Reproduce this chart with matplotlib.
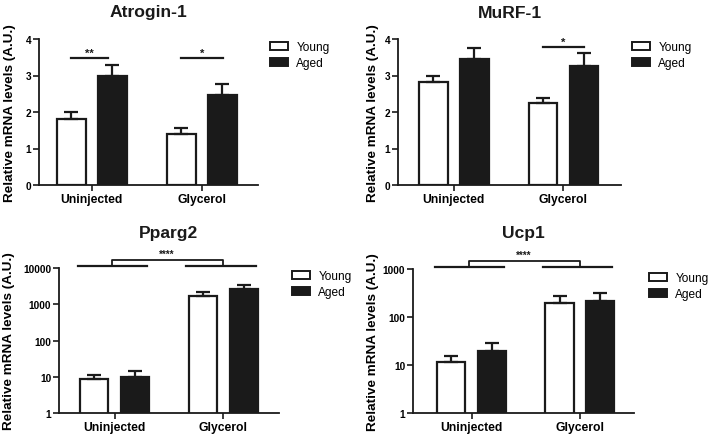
import matplotlib
matplotlib.use("Agg")
import matplotlib.pyplot as plt
from matplotlib.patches import Patch
import numpy as np

plt.rcParams['font.family'] = ['Liberation Sans', 'DejaVu Sans']

# ---------------- data ----------------
categories = ['Uninjected', 'Glycerol']
series_names = ['Young', 'Aged']

atrogin_young = [1.80, 1.41]
atrogin_young_err = [0.19, 0.16]
atrogin_aged = [2.98, 2.46]
atrogin_aged_err = [0.32, 0.32]

murf_young = [2.83, 2.24]
murf_young_err = [0.15, 0.14]
murf_aged = [3.45, 3.26]
murf_aged_err = [0.29, 0.35]

pparg_young = [8.7, 1700]
pparg_young_err = [2.7, 440]
pparg_aged = [10.0, 2590]
pparg_aged_err = [4.1, 730]

ucp_young = [11.4, 196]
ucp_young_err = [4.2, 74]
ucp_aged = [19.6, 212]
ucp_aged_err = [8.7, 109]

titles = ['Atrogin-1', 'MuRF-1', 'Pparg2', 'Ucp1']
ylabel = 'Relative mRNA levels (A.U.)'

# ---------------- layout ----------------
W, H = 709, 435
fig = plt.figure(figsize=(W / 100, H / 100), dpi=100)

def fx(px):
    return px / W

def fy(py):
    return 1 - py / H

BLACK = '#1a1a1a'

panels = [
    dict(box=(39, 40, 258, 186), xlim=(-0.48, 1.51), log=False, title_y=13,
         young=atrogin_young, yerr=atrogin_young_err, aged=atrogin_aged, aerr=atrogin_aged_err,
         ylabel_x=10, legend=(270, 42)),
    dict(box=(398, 40, 621, 186), xlim=(-0.51, 1.525), log=False, title_y=13,
         young=murf_young, yerr=murf_young_err, aged=murf_aged, aerr=murf_aged_err,
         ylabel_x=373, legend=(632, 42)),
    dict(box=(59, 269, 279, 414), xlim=(-0.51, 1.51), log=True, ylim=(1, 10000), title_y=234,
         young=pparg_young, yerr=pparg_young_err, aged=pparg_aged, aerr=pparg_aged_err,
         ylabel_x=9, legend=(292, 271)),
    dict(box=(413, 270, 634, 414), xlim=(-0.54, 1.50), log=True, ylim=(1, 1000), title_y=234,
         young=ucp_young, yerr=ucp_young_err, aged=ucp_aged, aerr=ucp_aged_err,
         ylabel_x=373, legend=(649, 273)),
]

x = np.arange(len(categories))
off = 0.187
bw = 0.26

axes = []
for i, p in enumerate(panels):
    l, t, r, b = p['box']
    ax = fig.add_axes([fx(l), fy(b), fx(r) - fx(l), (b - t) / H])
    axes.append(ax)
    ax.bar(x - off, p['young'], bw, color='white', edgecolor=BLACK, linewidth=1.6, zorder=2)
    ax.bar(x + off, p['aged'], bw, color=BLACK, edgecolor=BLACK, linewidth=1.6, zorder=2)
    ax.errorbar(x - off, p['young'], yerr=[np.zeros(2), p['yerr']], fmt='none',
                ecolor=BLACK, elinewidth=1.6, capsize=5, capthick=1.6, zorder=3)
    ax.errorbar(x + off, p['aged'], yerr=[np.zeros(2), p['aerr']], fmt='none',
                ecolor=BLACK, elinewidth=1.6, capsize=5, capthick=1.6, zorder=3)
    ax.set_xlim(*p['xlim'])
    if p['log']:
        ax.set_yscale('log')
        ax.set_ylim(*p['ylim'])
        ticks = [10 ** k for k in range(int(np.log10(p['ylim'][1])) + 1)]
        ax.set_yticks(ticks)
        ax.set_yticklabels([str(int(v)) for v in ticks])
        ax.yaxis.set_minor_locator(matplotlib.ticker.NullLocator())
    else:
        ax.set_ylim(0, 4)
        ax.set_yticks([0, 1, 2, 3, 4])
    ax.set_xticks(x)
    ax.set_xticklabels(categories, fontsize=8.7, fontweight='bold')
    for lab in ax.get_yticklabels():
        lab.set_fontsize(7.3)
        lab.set_fontweight('bold')
    ax.tick_params(axis='both', direction='out', length=4, width=1.2, color=BLACK, pad=1.5)
    ax.tick_params(axis='x', pad=2)
    for s in ['top', 'right']:
        ax.spines[s].set_visible(False)
    for s in ['left', 'bottom']:
        ax.spines[s].set_linewidth(1.3)
        ax.spines[s].set_color(BLACK)
    fig.text(fx((l + r) / 2), fy(p['title_y']), titles[i], ha='center', va='center',
             fontsize=12.6, fontweight='bold', color=BLACK)
    ax.set_ylabel(ylabel, fontsize=9.7, fontweight='bold')
    ax.yaxis.set_label_coords(fx(p['ylabel_x']), fy((t + b) / 2), transform=fig.transFigure)
    ax.yaxis.label.set_va('center')
    handles = [Patch(facecolor='white', edgecolor=BLACK, linewidth=1.4),
               Patch(facecolor=BLACK, edgecolor=BLACK, linewidth=1.4)]
    lx, ly = p['legend']
    ax.legend(handles, series_names, loc='upper left', bbox_to_anchor=(fx(lx), fy(ly)),
              bbox_transform=fig.transFigure, frameon=False, fontsize=8.6,
              handlelength=1.5, handleheight=0.65, handletextpad=0.7,
              labelspacing=0.35, borderpad=0, borderaxespad=0)

# ---------------- significance marks ----------------
def sig_line(ax, x0, x1, y, label, ylab):
    ax.plot([x0, x1], [y, y], color=BLACK, lw=1.6, clip_on=False, zorder=4)
    ax.text((x0 + x1) / 2, ylab, label, ha='center', va='center', fontsize=8,
            fontweight='bold', color=BLACK, clip_on=False)

sig_line(axes[0], -0.19, 0.15, 3.48, '**', 3.62)
sig_line(axes[0], 0.81, 1.19, 3.48, '*', 3.62)
sig_line(axes[1], 0.81, 1.19, 3.78, '*', 3.92)

def group_bracket(ax, ylow, ytop, ystar):
    for c in x:
        ax.plot([c - 0.34, c + 0.30], [ylow, ylow], color=BLACK, lw=1.6, clip_on=False, zorder=4)
    ax.plot([x[0] - 0.02, x[0] - 0.02, x[1], x[1]], [ylow, ytop, ytop, ylow],
            color=BLACK, lw=1.3, clip_on=False, zorder=4)
    ax.text((x[0] + x[1]) / 2 - 0.02, ystar, '****', ha='center', va='center', fontsize=7,
            fontweight='bold', color=BLACK, clip_on=False)

group_bracket(axes[2], 11100, 16600, 24500)
group_bracket(axes[3], 1085, 1445, 1950)

fig.savefig('out.png', dpi=100)
